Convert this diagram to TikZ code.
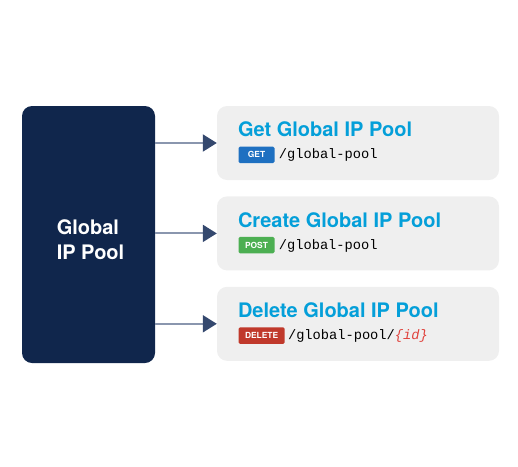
\documentclass[tikz,border=0pt]{standalone}
\usepackage{fontspec}
\setmainfont{TeX Gyre Heros}
\setmonofont{Liberation Mono}
\usetikzlibrary{positioning,arrows.meta}
\definecolor{poolnavy}{HTML}{10264C}
\definecolor{callgray}{HTML}{EFEFEF}
\definecolor{titleblue}{HTML}{049FD9}
\definecolor{getblue}{HTML}{1E70C1}
\definecolor{postgreen}{HTML}{4CAF52}
\definecolor{deletered}{HTML}{C0392B}
\definecolor{idred}{HTML}{E0413B}
\definecolor{linegray}{HTML}{8A96AE}
\definecolor{arrownavy}{HTML}{34486E}
\tikzset{
    poolbox/.style={fill=poolnavy, rounded corners=10pt, minimum width=133pt, minimum height=257pt, inner sep=0pt},
    pooltext/.style={text=white, font=\fontsize{20}{25}\selectfont\bfseries, align=left, inner sep=0pt},
    callbox/.style={fill=callgray, rounded corners=10pt, minimum width=282pt, minimum height=74pt, inner sep=0pt},
    calltitle/.style={anchor=base west, text=titleblue, font=\fontsize{20}{24}\selectfont\bfseries, inner sep=0pt},
    badge/.style={fill=#1, text=white, font=\fontsize{8.4}{10}\selectfont\bfseries, rounded corners=1.5pt,
        minimum width=36pt, minimum height=16.5pt, text height=6pt, text depth=0pt,
        inner xsep=6.5pt, inner ysep=0pt, anchor=west},
    callpath/.style={anchor=base west, font=\fontsize{13.7}{16}\selectfont\ttfamily, inner sep=0pt},
    callarrow/.style={draw=linegray, line width=2pt, -{Triangle[length=14pt,width=17pt,color=arrownavy]}},
}

\begin{document}
\begin{tikzpicture}[x=1pt,y=-1pt]
\useasboundingbox (0,0) rectangle (518,466);

%%% pool on the left %%%
\node[poolbox] (pool) at (88.5,234.5) {};
\node[pooltext] (pooltxt) at ([xshift=2pt,yshift=-5pt]pool.center) {Global\\IP Pool};

%%% the three calls %%%
\node[callbox] (get) at (358,143) {};
\node[callbox, below=16pt of get] (post) {};
\node[callbox, below=16pt of post] (delete) {};

\node[calltitle] (gettitle) at ([xshift=21pt,yshift=-31pt]get.north west) {Get Global IP Pool};
\node[badge=getblue] (getbadge) at ([xshift=21.5pt,yshift=-49pt]get.north west) {GET};
\node[callpath] (getpath) at ([xshift=4pt,yshift=-4pt]getbadge.east) {/global-pool};

\node[calltitle] (posttitle) at ([xshift=21pt,yshift=-31pt]post.north west) {Create Global IP Pool};
\node[badge=postgreen] (postbadge) at ([xshift=21.5pt,yshift=-49pt]post.north west) {POST};
\node[callpath] (postpath) at ([xshift=4pt,yshift=-4pt]postbadge.east) {/global-pool};

\node[calltitle] (deletetitle) at ([xshift=21pt,yshift=-31pt]delete.north west) {Delete Global IP Pool};
\node[badge=deletered] (deletebadge) at ([xshift=21.5pt,yshift=-49pt]delete.north west) {DELETE};
\node[callpath] (deletepath) at ([xshift=3pt,yshift=-4pt]deletebadge.east) {/global-pool/\textcolor{idred}{\itshape\{id\}}};

%%% arrows %%%
\draw[callarrow] (pool.east |- get.west) -- (get.west);
\draw[callarrow] (pool.east |- post.west) -- (post.west);
\draw[callarrow] (pool.east |- delete.west) -- (delete.west);
\end{tikzpicture}
\end{document}
